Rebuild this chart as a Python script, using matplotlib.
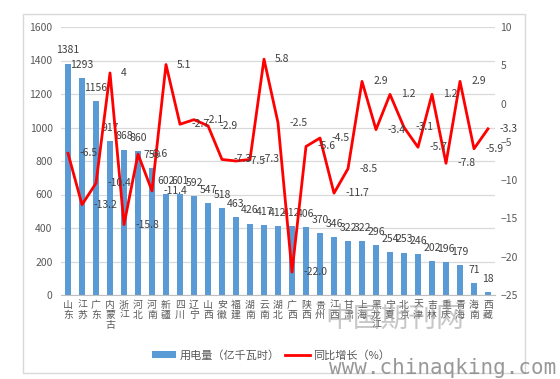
import matplotlib
matplotlib.use("Agg")
import matplotlib.pyplot as plt
from matplotlib.patches import Rectangle
from matplotlib.lines import Line2D
from matplotlib.patches import Patch

plt.rcParams['font.family'] = ['Noto Sans CJK SC', 'DejaVu Sans']

provinces = ["山东", "江苏", "广东", "内蒙古", "浙江", "河北", "河南", "新疆", "四川", "辽宁",
             "山西", "安徽", "福建", "湖南", "云南", "湖北", "广西", "陕西", "贵州", "江西",
             "甘肃", "上海", "黑龙江", "宁夏", "北京", "天津", "吉林", "重庆", "青海", "海南", "西藏"]
consumption = [1381, 1293, 1156, 917, 868, 860, 759, 602, 601, 592,
               547, 518, 463, 426, 417, 412, 412, 406, 370, 346,
               322, 322, 296, 254, 253, 246, 202, 196, 179, 71, 18]
growth = [-6.5, -13.2, -10.4, 4, -15.8, -6.6, -11.4, 5.1, -2.7, -2.1,
          -2.9, -7.3, -7.5, -7.3, 5.8, -2.5, -22.0, -5.6, -4.5, -11.7,
          -8.5, 2.9, -3.4, 1.2, -3.1, -5.7, 1.2, -7.8, 2.9, -5.9, -3.3]
growth_text = ["-6.5", "-13.2", "-10.4", "4", "-15.8", "-6.6", "-11.4", "5.1", "-2.7", "-2.1",
               "-2.9", "-7.3", "-7.5", "-7.3", "5.8", "-2.5", "-22.0", "-5.6", "-4.5", "-11.7",
               "-8.5", "2.9", "-3.4", "1.2", "-3.1", "-5.7", "1.2", "-7.8", "2.9", "-5.9", "-3.3"]
left_ticks = [0, 200, 400, 600, 800, 1000, 1200, 1400, 1600]
right_ticks = [-25, -20, -15, -10, -5, 0, 5, 10]
legend_bar = "用电量（亿千瓦时）"
legend_line = "同比增长（%）"

W, H = 560, 379
fig = plt.figure(figsize=(W / 100, H / 100), dpi=100)
fig.patch.set_facecolor("white")

# outer chart border
fig.add_artist(Rectangle((23 / W, 1 - 373 / H), (525 - 23) / W, (373 - 14) / H,
                         transform=fig.transFigure, fill=False, edgecolor="#d9d9d9", lw=1))

ax = fig.add_axes([61 / W, 1 - 295 / H, (495 - 61) / W, (295 - 27) / H])
x = list(range(len(provinces)))
bar_color = "#5B9BD5"
ax.bar(x, consumption, width=0.38, color=bar_color, zorder=2)
ax.set_xlim(-0.5, len(provinces) - 0.5)
ax.set_ylim(0, 1600)
ax.set_yticks(left_ticks)
ax.yaxis.grid(True, color="#d9d9d9", lw=0.9, zorder=0)
ax.set_axisbelow(True)
for s in ["top", "right", "left"]:
    ax.spines[s].set_visible(False)
ax.spines["bottom"].set_color("#bfbfbf")
ax.tick_params(axis="y", length=0, pad=6, labelsize=7.5, labelcolor="#595959")
ax.tick_params(axis="x", length=0)
ax.set_xticks(x)
ax.set_xticklabels([])

for xi, name in zip(x, provinces):
    ax.annotate("\n".join(name), xy=(xi, 0), xytext=(0, -3.5), textcoords="offset points",
                ha="center", va="top", fontsize=7.1, color="#595959", linespacing=0.98)

for xi, v in zip(x, consumption):
    ax.annotate(str(v), xy=(xi, v), xytext=(0, 9.5), textcoords="offset points",
                ha="center", va="center", fontsize=7.5, color="#404040", zorder=5)

ax2 = ax.twinx()
ax2.plot(x, growth, color="#FF0000", lw=2.0, zorder=4, solid_joinstyle="round")
ax2.set_ylim(-25, 10)
ax2.set_yticks(right_ticks)
for s in ["top", "right", "left", "bottom"]:
    ax2.spines[s].set_visible(False)
ax2.tick_params(axis="y", length=0, pad=4, labelsize=7.5, labelcolor="#595959")
for xi, v, t in zip(x, growth, growth_text):
    ax2.annotate(t, xy=(xi, v), xytext=(8, 0), textcoords="offset points",
                 ha="left", va="center", fontsize=7.5, color="#404040", zorder=5)

handles = [Patch(facecolor=bar_color, edgecolor="none"),
           Line2D([0], [0], color="#FF0000", lw=2.0)]
fig.legend(handles, [legend_bar, legend_line], loc="center", bbox_to_anchor=(271 / W, 1 - 355 / H),
           ncol=2, frameon=False, fontsize=8, handlelength=2.2, handleheight=0.6,
           columnspacing=0.5, handletextpad=0.3, labelcolor="#595959")

# watermarks
fig.text(395 / W, 1 - 319 / H, "中国期刊网", ha="center", va="center", fontsize=20,
         color="#9a9a9a", alpha=0.55)
fig.text(329 / W, 1 - 368 / H, "www.chinaqking.com", ha="left", va="center", fontsize=15,
         family=["DejaVu Sans Mono"], color="#7f7f7f", alpha=0.8)

fig.savefig("out.png", dpi=100, facecolor="white")
